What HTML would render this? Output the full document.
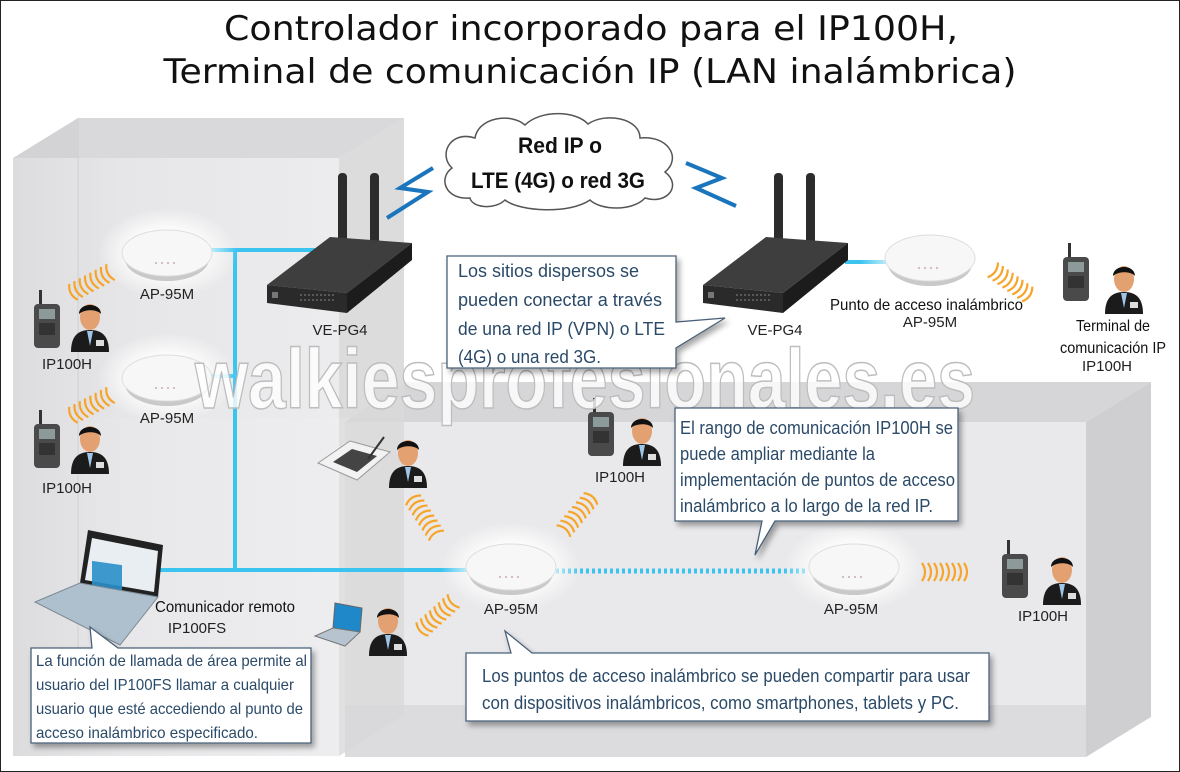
<!DOCTYPE html>
<html><head><meta charset="utf-8"><style>
html,body{margin:0;padding:0;background:#fff}
svg{display:block}
.lb{font-family:"Liberation Sans",sans-serif;font-size:15px;fill:#222}
.cn{font-family:"Liberation Sans",sans-serif;font-size:18px;fill:#2b4a68}
.bk{font-family:"Liberation Sans",sans-serif;font-size:16px;fill:#111}
</style></head><body>
<svg width="1180" height="772" viewBox="0 0 1180 772" xmlns="http://www.w3.org/2000/svg">
<defs>
<linearGradient id="lf" x1="0" y1="0" x2="1" y2="0"><stop offset="0" stop-color="#d9d9db"/><stop offset="0.35" stop-color="#e6e6e8"/><stop offset="1" stop-color="#ececee"/></linearGradient>
<radialGradient id="glow"><stop offset="0.5" stop-color="#fff" stop-opacity="0.9"/><stop offset="1" stop-color="#fff" stop-opacity="0"/></radialGradient>
<filter id="sh" x="-10%" y="-10%" width="130%" height="140%"><feDropShadow dx="3" dy="4" stdDeviation="3" flood-color="#000" flood-opacity="0.35"/></filter>
<symbol id="wv" overflow="visible"><path d="M-21,-9q6,9 0,18M-15,-9q6,9 0,18M-9,-9q6,9 0,18M-3,-9q6,9 0,18M3,-9q6,9 0,18M9,-9q6,9 0,18M15,-9q6,9 0,18M21,-9q6,9 0,18" fill="none" stroke="#f7a52a" stroke-width="2.2"/></symbol>
<symbol id="pr" overflow="visible">
<path d="M1,52 C1,36 8,30 20,30 C32,30 39,36 39,52 Z" fill="#1b1b1b"/>
<path d="M17,31 L20,46 L23,31 Z" fill="#9ec6e8"/>
<rect x="26" y="40" width="8" height="6" fill="#ddd"/>
<ellipse cx="20" cy="17" rx="10" ry="13" fill="#e3a070"/>
<path d="M9,14 C9,2 31,2 31,14 C27,9 14,9 9,14 Z" fill="#111"/>
</symbol>
<symbol id="rd" overflow="visible">
<rect x="5" y="0" width="3" height="18" fill="#333"/>
<rect x="0" y="14" width="26" height="44" rx="4" fill="#4a4a4a"/>
<rect x="5" y="19" width="16" height="10" fill="#8d9a9a"/>
<rect x="5" y="33" width="16" height="12" fill="#333"/>
</symbol>
<symbol id="ap" overflow="visible">
<ellipse cx="0" cy="0" rx="70" ry="45" fill="url(#glow)"/>
<ellipse cx="0" cy="6" rx="42" ry="22" fill="#c9c9c9"/>
<ellipse cx="0" cy="0" rx="45" ry="23" fill="#f7f7f7" stroke="#ddd"/>
<path d="M-12,10 h24" stroke="#caa" stroke-width="1.5" stroke-dasharray="2 4"/>
</symbol>
</defs>
<rect x="0.5" y="0.5" width="1179" height="771" fill="#fff" stroke="#222"/>
<!-- title -->
<text x="591" y="40" text-anchor="middle" font-family="DejaVu Sans,Liberation Sans,sans-serif" font-size="34" fill="#111" textLength="734" lengthAdjust="spacingAndGlyphs">Controlador incorporado para el IP100H,</text>
<text x="590" y="83" text-anchor="middle" font-family="DejaVu Sans,Liberation Sans,sans-serif" font-size="34" fill="#111" textLength="853" lengthAdjust="spacingAndGlyphs">Terminal de comunicación IP (LAN inalámbrica)</text>
<!-- right building -->
<polygon points="405,382 1151,382 1086,422 345,422" fill="#d6d6d8"/>
<polygon points="1086,422 1151,382 1151,717 1086,757" fill="#cfcfd1"/>
<rect x="345" y="422" width="741" height="335" fill="#e9e9eb"/>
<rect x="345" y="705" width="741" height="52" fill="#dcdcde"/>
<!-- left building -->
<polygon points="78,118 404,118 339,158 13,158" fill="#d3d3d5"/>
<rect x="78" y="118" width="326" height="300" fill="#dedee0" opacity="0.6"/>
<polygon points="339,158 404,118 404,715 339,756" fill="#d8d8da" opacity="0.8"/>
<rect x="13" y="158" width="326" height="598" fill="url(#lf)" opacity="0.92"/>
<line x1="78" y1="118" x2="78" y2="715" stroke="#d0d0d2"/>
<!-- cloud -->
<path d="M470,198 C445,200 438,178 452,168 C438,155 450,130 475,138 C478,118 510,112 525,125 C540,110 575,110 588,124 C605,112 640,118 640,138 C668,135 682,158 665,172 C682,185 668,205 645,198 C632,212 600,210 590,200 C570,214 520,212 505,200 C495,210 472,208 470,198 Z" fill="#fff" stroke="#555" stroke-width="1.5"/>
<text x="560" y="153" text-anchor="middle" font-family="Liberation Sans,sans-serif" font-weight="bold" font-size="22" fill="#111" textLength="84" lengthAdjust="spacingAndGlyphs">Red IP o</text>
<text x="558" y="188" text-anchor="middle" font-family="Liberation Sans,sans-serif" font-weight="bold" font-size="22" fill="#111" textLength="174" lengthAdjust="spacingAndGlyphs">LTE (4G) o red 3G</text>
<!-- bolts -->
<polyline points="387,218 428,192 400,188 433,168" fill="none" stroke="#1a75bc" stroke-width="4"/>
<polyline points="686,163 722,178 696,188 736,206" fill="none" stroke="#1a75bc" stroke-width="4"/>
<!-- blue lines -->
<g stroke="#3cc4f0" stroke-width="4" fill="none">
<path d="M210,250 H315 M235,250 V570 M210,376 H235 M155,570 H470 M845,262 H888"/>
</g>
<line x1="478" y1="571" x2="808" y2="571" stroke="#3cc4f0" stroke-width="5" stroke-dasharray="3 3"/>
<!-- routers -->
<g id="r1">
<rect x="338" y="173" width="9" height="72" rx="4" fill="#2c2c2c"/>
<rect x="370" y="173" width="9" height="72" rx="4" fill="#2c2c2c"/>
<polygon points="267,285 330,237 412,243 347,293" fill="#3e3e3e"/>
<polygon points="267,285 347,293 347,313 267,303" fill="#2a2a2a"/>
<polygon points="347,293 412,243 412,260 347,313" fill="#1c1c1c"/>
<path d="M272,292 h6 v6 h-6z" fill="#777"/>
<path d="M300,295 h35 M300,300 h35" stroke="#888" stroke-width="1" stroke-dasharray="2 2"/>
</g>
<use href="#r1" transform="translate(436,0)"/>
<!-- APs -->
<use href="#ap" x="167" y="253"/>
<use href="#ap" x="167" y="378"/>
<use href="#ap" x="511" y="567"/>
<use href="#ap" x="854" y="567"/>
<use href="#ap" x="930" y="258"/>
<!-- waves -->
<use href="#wv" transform="translate(92,282) rotate(152)"/>
<use href="#wv" transform="translate(92,405) rotate(152)"/>
<use href="#wv" transform="translate(425,518) rotate(237)"/>
<use href="#wv" transform="translate(577,515) rotate(-50)"/>
<use href="#wv" transform="translate(438,615) rotate(138)"/>
<use href="#wv" transform="translate(943,572)"/>
<use href="#wv" transform="translate(1010,282) rotate(35)"/>
<!-- people & radios -->
<use href="#rd" x="34" y="290"/><use href="#pr" x="70" y="300"/>
<use href="#rd" x="34" y="410"/><use href="#pr" x="70" y="422"/>
<use href="#rd" x="588" y="398"/><use href="#pr" x="622" y="414"/>
<use href="#rd" x="1002" y="540"/><use href="#pr" x="1042" y="553"/>
<use href="#rd" x="1063" y="243"/><use href="#pr" x="1104" y="262"/>
<use href="#pr" x="388" y="436"/>
<use href="#pr" x="368" y="604"/>
<!-- tablet -->
<polygon points="318,463 350,441 390,452 357,480" fill="#f2f2f2" stroke="#999"/>
<polygon points="333,462 352,449 377,456 357,472" fill="#444"/>
<line x1="368" y1="459" x2="384" y2="437" stroke="#333" stroke-width="2"/>
<!-- small laptop -->
<polygon points="335,603 362,608 360,632 333,628" fill="#1e88c8" stroke="#666"/>
<polygon points="315,636 333,628 360,632 345,646" fill="#b7c4cf" stroke="#777"/>
<!-- big laptop -->
<polygon points="88,530 163,545 158,597 80,583" fill="#222"/>
<polygon points="92,538 158,551 154,592 85,580" fill="#e8eef2"/>
<rect x="92" y="548" width="30" height="30" fill="#2a8fc9" transform="skewY(8)" opacity="0.9"/>
<polygon points="35,602 80,583 158,597 120,645" fill="#aec0cd" stroke="#7a8a95"/>
<!-- watermark -->
<text x="195" y="408" font-family="Liberation Sans,sans-serif" font-weight="bold" font-size="84" fill="#fff" fill-opacity="0.8" stroke="#bdbdbd" stroke-width="1.5" textLength="780" lengthAdjust="spacingAndGlyphs">walkiesprofesionales.es</text>
<!-- labels -->
<g class="lb" text-anchor="middle">
<text x="167" y="299">AP-95M</text>
<text x="167" y="423">AP-95M</text>
<text x="340" y="335">VE-PG4</text>
<text x="775" y="335">VE-PG4</text>
<text x="67" y="369">IP100H</text>
<text x="67" y="493">IP100H</text>
<text x="620" y="482">IP100H</text>
<text x="1043" y="621">IP100H</text>
<text x="511" y="614">AP-95M</text>
<text x="851" y="614">AP-95M</text>
<text x="930" y="327">AP-95M</text>
<text x="1107" y="371">IP100H</text>
<text x="197" y="633">IP100FS</text>
</g>
<g class="bk">
<text x="830" y="310" textLength="193" lengthAdjust="spacingAndGlyphs">Punto de acceso inalámbrico</text>
<text x="1076" y="331" textLength="74" lengthAdjust="spacingAndGlyphs">Terminal de</text>
<text x="1060" y="353" textLength="106" lengthAdjust="spacingAndGlyphs">comunicación IP</text>
<text x="155" y="612" textLength="140" lengthAdjust="spacingAndGlyphs">Comunicador remoto</text>
</g>
<!-- callouts -->
<g filter="url(#sh)" fill="#fff" stroke="#4a6178" stroke-width="1.3">
<path d="M447,256 H676 V322 L725,318 L676,348 V368 H447 Z"/>
<path d="M675,408 H958 V521 H775 L755,555 L762,521 H675 Z"/>
<path d="M466,653 H511 L505,631 L532,653 H989 V721 H466 Z"/>
<path d="M31,648 H92 L90,627 L118,648 H311 V743 H31 Z"/>
</g>
<g class="cn">
<text x="458" y="277" textLength="181" lengthAdjust="spacingAndGlyphs">Los sitios dispersos se</text>
<text x="458" y="306" textLength="204" lengthAdjust="spacingAndGlyphs">pueden conectar a través</text>
<text x="458" y="335" textLength="207" lengthAdjust="spacingAndGlyphs">de una red IP (VPN) o LTE</text>
<text x="458" y="363" textLength="143" lengthAdjust="spacingAndGlyphs">(4G) o una red 3G.</text>
<text x="680" y="434" textLength="273" lengthAdjust="spacingAndGlyphs">El rango de comunicación IP100H se</text>
<text x="680" y="460" textLength="195" lengthAdjust="spacingAndGlyphs">puede ampliar mediante la</text>
<text x="680" y="486" textLength="275" lengthAdjust="spacingAndGlyphs">implementación de puntos de acceso</text>
<text x="680" y="512" textLength="253" lengthAdjust="spacingAndGlyphs">inalámbrico a lo largo de la red IP.</text>
<text x="482" y="682" textLength="488" lengthAdjust="spacingAndGlyphs">Los puntos de acceso inalámbrico se pueden compartir para usar</text>
<text x="482" y="709" textLength="477" lengthAdjust="spacingAndGlyphs">con dispositivos inalámbricos, como smartphones, tablets y PC.</text>
<text x="36" y="666" font-size="16" textLength="271" lengthAdjust="spacingAndGlyphs">La función de llamada de área permite al</text>
<text x="36" y="690" font-size="16" textLength="258" lengthAdjust="spacingAndGlyphs">usuario del IP100FS llamar a cualquier</text>
<text x="36" y="714" font-size="16" textLength="267" lengthAdjust="spacingAndGlyphs">usuario que esté accediendo al punto de</text>
<text x="36" y="738" font-size="16" textLength="222" lengthAdjust="spacingAndGlyphs">acceso inalámbrico especificado.</text>
</g>
</svg>
</body></html>
